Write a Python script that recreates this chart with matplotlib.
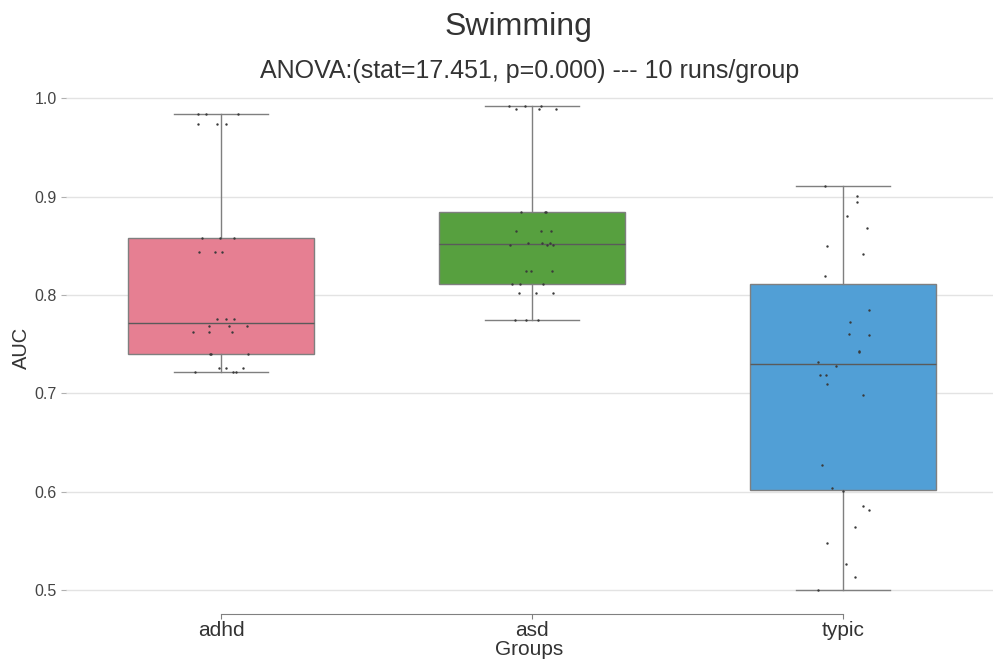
import matplotlib.pyplot as plt
import numpy as np

plt.rcParams['font.family'] = ['Liberation Sans', 'DejaVu Sans']

# data (AUC per run)
groups = ["adhd", "asd", "typic"]
adhd = [0.9837, 0.9837, 0.9837, 0.9738, 0.9738, 0.9738,
        0.8575, 0.8575, 0.8575, 0.8439, 0.8439, 0.8439,
        0.7752, 0.7752, 0.7752, 0.7684, 0.7684, 0.7684,
        0.7622, 0.7622, 0.7622, 0.7398, 0.7398, 0.7398,
        0.7255, 0.7255, 0.7255, 0.7218, 0.7218, 0.7218]
asd = [0.9922, 0.9922, 0.9922, 0.9895, 0.9895, 0.9895,
       0.8847, 0.8847, 0.8847, 0.8650, 0.8650, 0.8650,
       0.8528, 0.8528, 0.8528, 0.8510, 0.8510, 0.8510,
       0.8245, 0.8245, 0.8245, 0.8116, 0.8116, 0.8116,
       0.8024, 0.8024, 0.8024, 0.7745, 0.7745, 0.7745]
typic = [0.9112, 0.9010, 0.8942, 0.8803, 0.8684, 0.8493,
         0.8415, 0.8197, 0.7844, 0.7724, 0.7599, 0.7589,
         0.7415, 0.7429, 0.7313, 0.7272, 0.7187, 0.7184,
         0.7092, 0.6983, 0.6272, 0.6038, 0.6003, 0.5854,
         0.5813, 0.5636, 0.5480, 0.5262, 0.5126, 0.5003]
yticks = [0.5, 0.6, 0.7, 0.8, 0.9, 1.0]

colors = ['#e67f92', '#57a03f', '#519fd6']
edge = '#7f7f7f'
data = [adhd, asd, typic]

fig = plt.figure(figsize=(9.93, 6.68), dpi=100)
ax = fig.add_axes([0.066, 0.0813, 0.934, 0.7962])

bp = ax.boxplot(data, positions=range(len(groups)), widths=0.6, capwidths=0.3,
                patch_artist=True, showfliers=False, whis=1.5,
                boxprops=dict(edgecolor=edge, linewidth=1.0),
                whiskerprops=dict(color=edge, linewidth=1.0),
                capprops=dict(color=edge, linewidth=1.0),
                medianprops=dict(color='#5a5a5a', linewidth=1.0))
for patch, c in zip(bp['boxes'], colors):
    patch.set_facecolor(c)

# strip points with a little horizontal jitter
rng = np.random.default_rng(3)
for i, vals in enumerate(data):
    x = i + rng.uniform(-0.09, 0.09, len(vals))
    ax.scatter(x, vals, s=3, color='#3a3a3a', zorder=3, linewidths=0)

ax.set_xlim(-0.5, 2.482)
ax.set_ylim(0.4757, 1.0168)
ax.set_xticks(range(len(groups)))
ax.set_xticklabels(groups, fontsize=15, color='#333333')
ax.set_yticks(yticks)
ax.set_yticklabels([f"{v:.1f}" for v in yticks], fontsize=11.5, color='#444444')
ax.tick_params(axis='x', length=3.5, width=0.8, color='#808080', pad=2)
ax.tick_params(axis='y', length=3.5, width=0.8, color='#b0b0b0', pad=3)

ax.yaxis.grid(True, color='#e3e3e3', linewidth=1.0)
ax.set_axisbelow(True)
for s in ['top', 'right', 'left']:
    ax.spines[s].set_visible(False)
ax.spines['bottom'].set_color('#808080')
ax.spines['bottom'].set_bounds(0, 2)

ax.set_xlabel("Groups", fontsize=15, color='#333333', labelpad=0)
ax.set_ylabel("AUC", fontsize=14.5, color='#333333', labelpad=2)

fig.text(0.522, 0.959, "Swimming", fontsize=23, color='#333333', ha='center', va='center')
fig.text(0.533, 0.894, "ANOVA:(stat=17.451, p=0.000) --- 10 runs/group",
         fontsize=18, color='#333333', ha='center', va='center')

fig.savefig("out.png", dpi=100)
